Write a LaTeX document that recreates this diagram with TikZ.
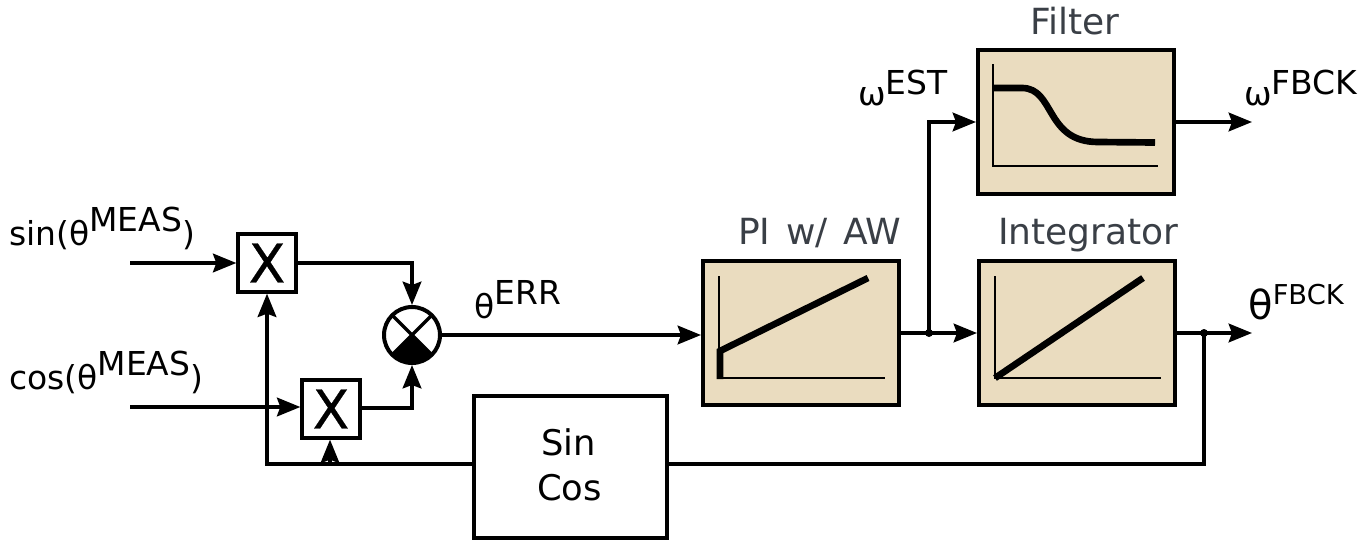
\documentclass[tikz,border=0pt]{standalone}
\usepackage{fontspec}
\setmainfont{DejaVu Sans}
\newfontfamily\xfont[FakeBold=0.6]{DejaVu Sans}
\usetikzlibrary{arrows.meta,calc}
\definecolor{tan}{HTML}{EADCBF}
\definecolor{cap}{HTML}{3A3F46}
\tikzset{
  x=0.75pt,y=-0.75pt,
  wire/.style={line width=2.6pt,-{Stealth[length=17.5pt,width=14pt,inset=2.5pt]}},
  plain/.style={line width=2.6pt},
  mul/.style={draw,line width=3pt,fill=white,minimum size=43pt,inner sep=0pt,font=\xfont\fontsize{40pt}{40pt}\selectfont},
  plot/.style={draw,line width=3pt,fill=tan,minimum width=147pt,minimum height=107.5pt,inner sep=0pt},
  lab/.style={anchor=base west,inner sep=0pt,font=\fontsize{24.7pt}{24.7pt}\selectfont},
  big/.style={lab,font=\fontsize{26.5pt}{26.5pt}\selectfont},
  title/.style={lab,text=cap,font=\fontsize{27pt}{27pt}\selectfont},
  axis/.style={line width=1.6pt,black},
  curve/.style={line width=5pt,black},
  dot/.style={circle,fill=black,inner sep=0pt,minimum size=6pt},
}
\begin{document}
\begin{tikzpicture}
\useasboundingbox (0,0) rectangle (1369,539);
% blocks
\node[mul] (X1) at (267,263) {X};
\node[mul] (X2) at (331,409) {X};
\node[circle,draw,line width=3pt,fill=white,minimum size=42pt,inner sep=0pt] (M) at (412,335) {};
\node[draw,line width=3pt,fill=white,minimum width=145pt,minimum height=106pt,inner sep=0pt] (SC) at (570.5,467) {};
\node[big] (sintxt) at (541,455) {Sin};
\node[big] (costxt) at (537,500) {Cos};
\node[plot] (PI) at (801,333) {};
\node[plot] (INT) at (1077,333) {};
\node[plot,minimum height=108pt] (FIL) at (1076,121.5) {};
% mixer symbol
\fill (412,335) -- (392.2,354.8) arc (135:45:28) -- cycle;
\draw[line width=2.6pt] (392.2,315.2) -- (431.8,354.8) (431.8,315.2) -- (392.2,354.8);
% coordinates
\coordinate (in1) at (130,263);
\coordinate (in2) at (130,407);
\coordinate (t1) at (412,263);
\coordinate (t2) at (412,408);
\coordinate (fb) at (1204,464);
\coordinate (ret) at (267,464);
\coordinate (br) at (330,464);
\coordinate (up) at (929,122);
\coordinate (o1) at (1252,122);
\coordinate (o2) at (1252,333);
\node[dot] (J1) at (929,333) {};
\node[dot] (J2) at (1204,333) {};
% connectors
\draw[wire] (in1) -- (X1.west);
\draw[wire] (in2) -- (in2 -| X2.west);
\draw[wire] (X1.east) -- (t1) -- (M.north);
\draw[wire] (t2 -| X2.east) -- (t2) -- (M.south);
\draw[wire] (SC.west |- fb) -- (ret) -- (X1.south);
\draw[wire] (br) -- (X2.south -| br);
\draw[wire] (M.east) -- (M.east -| PI.west);
\draw[wire] (PI.east) -- (INT.west);
\draw[wire] (J1.center) -- (up) -- (up -| FIL.west);
\draw[wire] (up -| FIL.east) -- (o1);
\draw[wire] (INT.east) -- (o2);
\draw[plain] (J2.center) -- (fb) -- (SC.east |- fb);
% inner plots
\draw[axis] (719,276) -- (719,378) -- (885,378);
\draw[curve] (720,379) -- (720,351) -- (868,278);
\draw[axis] (995,276) -- (995,378) -- (1161,378);
\draw[curve] (995,378) -- (1143,278);
\draw[axis] (993,64) -- (993,166) -- (1158,166);
\draw[curve] (993,88) -- (1022,88) .. controls (1055,88) and (1045,142) .. (1098,142) -- (1155,142.5);
% labels
\node[lab] (s) at (9,245) {sin(θ\raisebox{10pt}{MEAS})};
\node[lab] (c) at (9,389) {cos(θ\raisebox{10pt}{MEAS})};
\node[lab] (err) at (474,318) {θ\raisebox{10.5pt}{ERR}};
\node[lab] (est) at (858,105) {ω\raisebox{8pt}{EST}};
\node[lab] (wf) at (1244,105) {ω\raisebox{8pt}{FBCK}};
\node[lab,font=\fontsize{30pt}{30pt}\selectfont] (tf) at (1248,319) {θ\raisebox{11pt}{\fontsize{20.5pt}{20.5pt}\selectfont FBCK}};
\node[title] (t1x) at (1030,34) {Filter};
\node[title] (t2x) at (738,244) {PI\hspace{3pt} w/\hspace{3pt} AW};
\node[title] (t3x) at (998,244) {Integrator};
\end{tikzpicture}
\end{document}
